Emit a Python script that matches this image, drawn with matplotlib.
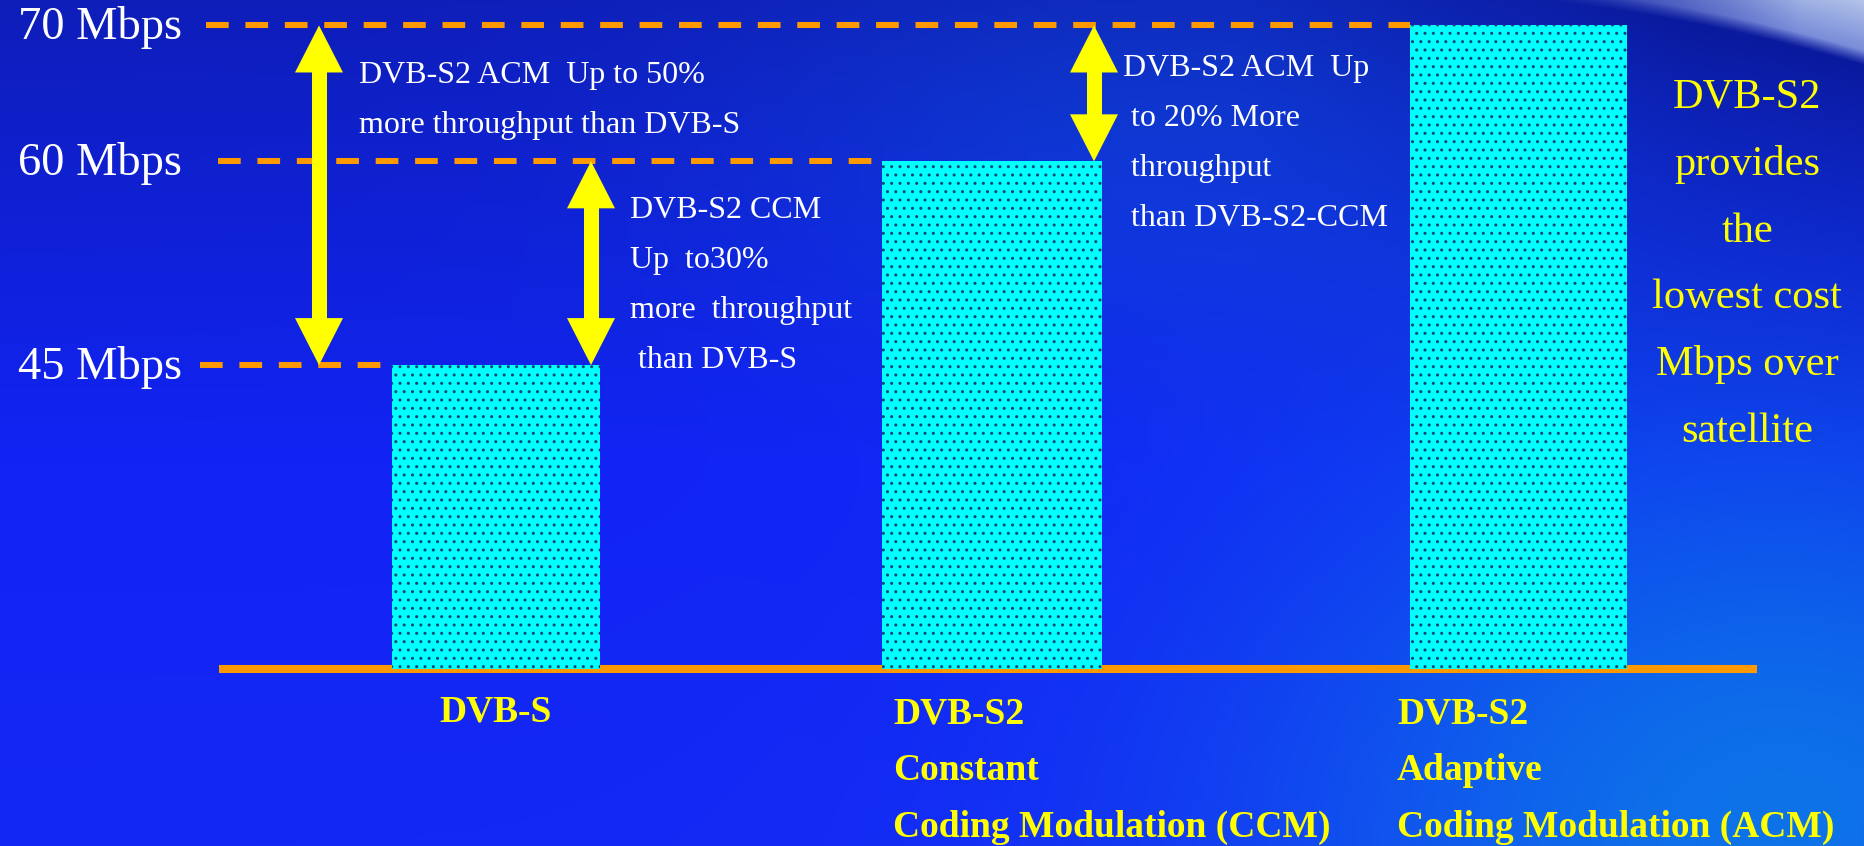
import numpy as np
import matplotlib.pyplot as plt

# throughput of each transmission mode, Mbps
modes = ["DVB-S", "DVB-S2 CCM", "DVB-S2 ACM"]
throughput = [45, 60, 70]
level_labels = ["45 Mbps", "60 Mbps", "70 Mbps"]

# gain arrows: (lower level, upper level)
gains = [(45, 70), (45, 60), (60, 70)]

mode_labels = [["DVB-S"],
               ["DVB-S2", "Constant", "Coding Modulation (CCM)"],
               ["DVB-S2", "Adaptive", "Coding Modulation (ACM)"]]

gain_notes = [["DVB-S2 ACM  Up to 50%", "more throughput than DVB-S"],
              ["DVB-S2 CCM", "Up  to30%", "more  throughput", " than DVB-S"],
              ["DVB-S2 ACM  Up", " to 20% More", " throughput", " than DVB-S2-CCM"]]

side_note = ["DVB-S2", "provides", "the", "lowest cost", "Mbps over", "satellite"]

# ---- layout (pixels) ----
W, H = 1864, 846
BASE_PX = 669          # baseline row
PX_PER_MBPS = 13.585
BASE = 22.63           # value sitting on the baseline
YMAX = BASE + BASE_PX / PX_PER_MBPS
YMIN = BASE - (H - BASE_PX) / PX_PER_MBPS

bar_x = [495.5, 992, 1518.5]
bar_w = [208, 220, 217]
dash_start = [200, 218, 206]
arrow_x = [319, 591, 1094]
ORANGE = "#FF9900"
YELLOW = "#FFFF00"
SERIF = "Liberation Serif"

plt.rcParams["hatch.linewidth"] = 1.0
plt.rcParams["hatch.color"] = "#0e4a70"


def background():
    yy, xx = np.mgrid[0:H, 0:W].astype(float)
    v = yy / H
    r = 14 + 6 * v
    g = 30 + 10 * v
    b = 185 + 60 * np.clip(v / 0.55, 0, 1)
    # soft glow low on the right
    gl = np.exp(-((xx - 1780) ** 2 / (2 * 380 ** 2) + (yy - 820) ** 2 / (2 * 300 ** 2)))
    r -= 6 * gl
    g += 75 * gl
    b -= 12 * gl
    gl2 = np.exp(-(((xx - 1150) / 300) ** 2 + ((yy - 150) / 150) ** 2) / 2)
    g += 22 * gl2
    b += 8 * gl2
    col = np.dstack([r, g, b])

    # globe limb in the top right corner
    cx, cy, R = 1353, 1774, 1783
    s = np.hypot(xx - cx, yy - cy) - R
    sh = np.exp(-np.clip(-s, 0, None) / 120) * np.clip((xx - 1250) / 450, 0, 1)
    navy = np.array([8, 20, 135])
    col = col * (1 - 0.6 * sh[..., None]) + navy * 0.6 * sh[..., None]
    taper = np.clip((xx - 1480) / 320, 0, 1)
    lt = (np.clip(s / 14, 0, 1) * taper)[..., None]
    blu = np.array([105, 125, 212])
    wht = np.array([188, 204, 236])
    k = np.clip(s / 70, 0, 1)[..., None]
    lc = blu + (wht - blu) * k
    col = col * (1 - lt) + lc * lt
    return np.clip(col / 255, 0, 1)


fig = plt.figure(figsize=(W / 100, H / 100), dpi=100)
ax = fig.add_axes([0, 0, 1, 1])
ax.imshow(background(), extent=(0, W, YMIN, YMAX), aspect="auto",
          interpolation="bilinear", zorder=0)
ax.set_xlim(0, W)
ax.set_ylim(YMIN, YMAX)
ax.axis("off")

# baseline
ax.hlines(BASE, 219, 1757, colors=ORANGE, lw=5.8, zorder=2)

# bars
ax.bar(bar_x, [t - BASE for t in throughput], width=bar_w, bottom=BASE,
       color="#00FFFF", edgecolor="#0e4a70", linewidth=0, hatch="..", zorder=3)

# dashed guide lines and level labels
for i, (val, lbl) in enumerate(zip(throughput, level_labels)):
    ax.hlines(val, dash_start[i], bar_x[i] - bar_w[i] / 2, colors=ORANGE, lw=4.3,
              linestyles=(0, (3.8, 2.8)), zorder=2)
    ax.annotate(lbl, (182, val), xytext=(0, -10), textcoords="offset points",
                ha="right", va="baseline", color="white", fontsize=33.5, family=SERIF)

# double headed gain arrows: one shaft, two heads
hl = 47 / PX_PER_MBPS
for x, (lo, hi) in zip(arrow_x, gains):
    ax.vlines(x, lo + 0.8 * hl, hi - 0.8 * hl, colors=YELLOW, lw=10.8,
              capstyle="butt", zorder=4)
    for end, sign in ((lo, -1), (hi, 1)):
        ax.arrow(x, end - sign * hl, 0, sign * hl, width=15, head_width=48,
                 head_length=hl, length_includes_head=True, fc=YELLOW, ec="none",
                 lw=0, zorder=4)

# text overlay in pixel coordinates
tx = fig.add_axes([0, 0, 1, 1], zorder=5)
tx.set_xlim(0, W)
tx.set_ylim(H, 0)
tx.axis("off")
tx.patch.set_alpha(0)

note_pos = [(359, 83), (630, 218), (1123, 76)]
for (x0, y0), lines in zip(note_pos, gain_notes):
    for j, line in enumerate(lines):
        tx.text(x0, y0 + 50 * j, line, color="white", fontsize=23, family=SERIF,
                ha="left", va="baseline")

for j, line in enumerate(side_note):
    tx.text(1747, 108 + 66.8 * j, line, color=YELLOW, fontsize=30.5, family=SERIF,
            ha="center", va="baseline")

label_pos = [(495.5, 721, "center"), (893, 723, "left"), (1397, 723, "left")]
for (x0, y0, ha), lines in zip(label_pos, mode_labels):
    for j, line in enumerate(lines):
        tx.text(x0, y0 + 57 * j, line, color=YELLOW, fontsize=27, family=SERIF,
                fontweight="bold", ha=ha, va="baseline")

fig.savefig("out.png", dpi=100)
